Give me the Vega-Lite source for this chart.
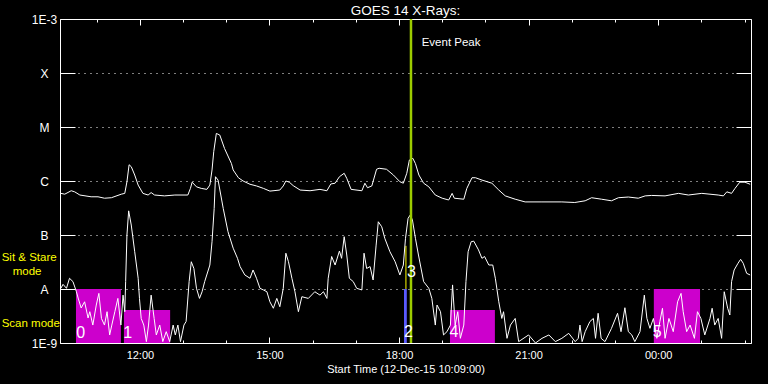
{
  "$schema": "https://vega.github.io/schema/vega-lite/v6.json",
  "width": 691,
  "height": 324,
  "autosize": {"type": "none"},
  "padding": {"left": 60, "top": 19, "right": 17, "bottom": 41},
  "background": "black",
  "title": {"text": "GOES 14 X-Rays:", "color": "white", "font": "Liberation Sans", "fontSize": 13.5, "fontWeight": "normal", "anchor": "middle", "offset": -4},
  "config": {
    "view": {"stroke": "white", "strokeWidth": 1},
    "axis": {"labelFont": "Liberation Sans", "titleFont": "Liberation Sans", "labelColor": "white", "titleColor": "white", "tickColor": "white", "domainColor": "white"}
  },
  "datasets": {
    "goes": [
      {"band":"long","hour":10.17,"flux":5.9e-7},{"band":"long","hour":10.26,"flux":5.7e-7},{"band":"long","hour":10.41,"flux":6.6e-7},{"band":"long","hour":10.49,"flux":6.3e-7},{"band":"long","hour":10.61,"flux":5.5e-7},{"band":"long","hour":10.87,"flux":5.1e-7},{"band":"long","hour":11.03,"flux":5.1e-7},{"band":"long","hour":11.18,"flux":4.8e-7},{"band":"long","hour":11.34,"flux":4.9e-7},{"band":"long","hour":11.57,"flux":5.7e-7},{"band":"long","hour":11.65,"flux":5.9e-7},{"band":"long","hour":11.70,"flux":9.7e-7},{"band":"long","hour":11.75,"flux":2.0e-6},{"band":"long","hour":11.80,"flux":1.84e-6},{"band":"long","hour":11.88,"flux":1.29e-6},{"band":"long","hour":11.96,"flux":8.4e-7},{"band":"long","hour":12.07,"flux":5.9e-7},{"band":"long","hour":12.19,"flux":5.5e-7},{"band":"long","hour":12.26,"flux":6.1e-7},{"band":"long","hour":12.34,"flux":5.5e-7},{"band":"long","hour":12.57,"flux":5.3e-7},{"band":"long","hour":12.81,"flux":5.5e-7},{"band":"long","hour":13.11,"flux":5.5e-7},{"band":"long","hour":13.17,"flux":7.3e-7},{"band":"long","hour":13.21,"flux":9.5e-7},{"band":"long","hour":13.31,"flux":7.8e-7},{"band":"long","hour":13.42,"flux":7.3e-7},{"band":"long","hour":13.55,"flux":7.0e-7},{"band":"long","hour":13.62,"flux":8.4e-7},{"band":"long","hour":13.67,"flux":1.6e-6},{"band":"long","hour":13.71,"flux":3.5e-6},{"band":"long","hour":13.77,"flux":7.6e-6},{"band":"long","hour":13.85,"flux":7.1e-6},{"band":"long","hour":13.96,"flux":4.0e-6},{"band":"long","hour":14.12,"flux":2.1e-6},{"band":"long","hour":14.16,"flux":1.6e-6},{"band":"long","hour":14.28,"flux":1.15e-6},{"band":"long","hour":14.39,"flux":1.0e-6},{"band":"long","hour":14.55,"flux":8.7e-7},{"band":"long","hour":14.70,"flux":8.1e-7},{"band":"long","hour":14.86,"flux":7.3e-7},{"band":"long","hour":15.01,"flux":6.5e-7},{"band":"long","hour":15.24,"flux":6.8e-7},{"band":"long","hour":15.32,"flux":8.1e-7},{"band":"long","hour":15.38,"flux":1.0e-6},{"band":"long","hour":15.46,"flux":9.5e-7},{"band":"long","hour":15.55,"flux":8.2e-7},{"band":"long","hour":15.71,"flux":6.8e-7},{"band":"long","hour":15.94,"flux":6.6e-7},{"band":"long","hour":16.17,"flux":7.0e-7},{"band":"long","hour":16.33,"flux":6.6e-7},{"band":"long","hour":16.42,"flux":8.8e-7},{"band":"long","hour":16.52,"flux":9.1e-7},{"band":"long","hour":16.62,"flux":1.2e-6},{"band":"long","hour":16.73,"flux":1.39e-6},{"band":"long","hour":16.79,"flux":1.12e-6},{"band":"long","hour":16.89,"flux":7.0e-7},{"band":"long","hour":17.14,"flux":6.6e-7},{"band":"long","hour":17.21,"flux":9.1e-7},{"band":"long","hour":17.27,"flux":7.5e-7},{"band":"long","hour":17.37,"flux":8.1e-7},{"band":"long","hour":17.48,"flux":1.65e-6},{"band":"long","hour":17.54,"flux":1.72e-6},{"band":"long","hour":17.71,"flux":1.65e-6},{"band":"long","hour":17.87,"flux":1.29e-6},{"band":"long","hour":18.02,"flux":9.7e-7},{"band":"long","hour":18.10,"flux":9.1e-7},{"band":"long","hour":18.18,"flux":1.39e-6},{"band":"long","hour":18.24,"flux":2.45e-6},{"band":"long","hour":18.32,"flux":2.63e-6},{"band":"long","hour":18.38,"flux":2.1e-6},{"band":"long","hour":18.46,"flux":1.29e-6},{"band":"long","hour":18.57,"flux":9.1e-7},{"band":"long","hour":18.69,"flux":7.8e-7},{"band":"long","hour":18.84,"flux":5.5e-7},{"band":"long","hour":19.00,"flux":4.8e-7},{"band":"long","hour":19.15,"flux":4.45e-7},{"band":"long","hour":19.23,"flux":5.9e-7},{"band":"long","hour":19.28,"flux":4.8e-7},{"band":"long","hour":19.50,"flux":4.6e-7},{"band":"long","hour":19.57,"flux":7.3e-7},{"band":"long","hour":19.69,"flux":1.15e-6},{"band":"long","hour":19.77,"flux":1.15e-6},{"band":"long","hour":19.92,"flux":1.04e-6},{"band":"long","hour":20.15,"flux":9.1e-7},{"band":"long","hour":20.31,"flux":6.8e-7},{"band":"long","hour":20.46,"flux":5.3e-7},{"band":"long","hour":20.69,"flux":4.6e-7},{"band":"long","hour":20.92,"flux":4.1e-7},{"band":"long","hour":21.31,"flux":4.1e-7},{"band":"long","hour":21.77,"flux":4.1e-7},{"band":"long","hour":22.07,"flux":4.0e-7},{"band":"long","hour":22.31,"flux":4.3e-7},{"band":"long","hour":22.46,"flux":4.9e-7},{"band":"long","hour":22.69,"flux":4.6e-7},{"band":"long","hour":22.92,"flux":4.3e-7},{"band":"long","hour":23.08,"flux":4.9e-7},{"band":"long","hour":23.31,"flux":5.05e-7},{"band":"long","hour":23.54,"flux":4.8e-7},{"band":"long","hour":23.70,"flux":5.3e-7},{"band":"long","hour":23.85,"flux":5.4e-7},{"band":"long","hour":24.16,"flux":5.3e-7},{"band":"long","hour":24.47,"flux":5.9e-7},{"band":"long","hour":24.70,"flux":5.5e-7},{"band":"long","hour":25.01,"flux":5.9e-7},{"band":"long","hour":25.39,"flux":5.5e-7},{"band":"long","hour":25.51,"flux":5.3e-7},{"band":"long","hour":25.59,"flux":6.3e-7},{"band":"long","hour":25.70,"flux":5.9e-7},{"band":"long","hour":25.78,"flux":7.3e-7},{"band":"long","hour":25.89,"flux":9.5e-7},{"band":"long","hour":26.01,"flux":9.5e-7},{"band":"long","hour":26.13,"flux":8.7e-7},
      {"band":"short","hour":10.17,"flux":1.03e-8},{"band":"short","hour":10.22,"flux":1.22e-8},{"band":"short","hour":10.30,"flux":1.03e-8},{"band":"short","hour":10.37,"flux":1.58e-8},{"band":"short","hour":10.45,"flux":1.37e-8},{"band":"short","hour":10.53,"flux":8.9e-9},{"band":"short","hour":10.57,"flux":6.8e-9},{"band":"short","hour":10.64,"flux":4.45e-9},{"band":"short","hour":10.72,"flux":5.8e-9},{"band":"short","hour":10.80,"flux":2.9e-9},{"band":"short","hour":10.84,"flux":3.8e-9},{"band":"short","hour":10.91,"flux":2.15e-9},{"band":"short","hour":10.99,"flux":5.05e-9},{"band":"short","hour":11.05,"flux":8.3e-9},{"band":"short","hour":11.11,"flux":2.85e-9},{"band":"short","hour":11.18,"flux":2.15e-9},{"band":"short","hour":11.24,"flux":3.8e-9},{"band":"short","hour":11.30,"flux":1.41e-9},{"band":"short","hour":11.35,"flux":2.15e-9},{"band":"short","hour":11.42,"flux":3.8e-9},{"band":"short","hour":11.49,"flux":6.7e-9},{"band":"short","hour":11.56,"flux":2.15e-9},{"band":"short","hour":11.61,"flux":7.7e-9},{"band":"short","hour":11.65,"flux":3.8e-9},{"band":"short","hour":11.67,"flux":1.37e-8},{"band":"short","hour":11.70,"flux":1.0e-7},{"band":"short","hour":11.74,"flux":2.8e-7},{"band":"short","hour":11.80,"flux":1.53e-7},{"band":"short","hour":11.88,"flux":4.9e-8},{"band":"short","hour":11.96,"flux":1.58e-8},{"band":"short","hour":11.99,"flux":6.7e-9},{"band":"short","hour":12.03,"flux":2.85e-9},{"band":"short","hour":12.09,"flux":2.15e-9},{"band":"short","hour":12.15,"flux":1.06e-9},{"band":"short","hour":12.20,"flux":2.15e-9},{"band":"short","hour":12.26,"flux":7.7e-9},{"band":"short","hour":12.33,"flux":2.85e-9},{"band":"short","hour":12.38,"flux":1.41e-9},{"band":"short","hour":12.46,"flux":2.15e-9},{"band":"short","hour":12.53,"flux":1.06e-9},{"band":"short","hour":12.61,"flux":1.62e-9},{"band":"short","hour":12.69,"flux":1.06e-9},{"band":"short","hour":12.77,"flux":2.15e-9},{"band":"short","hour":12.82,"flux":1.41e-9},{"band":"short","hour":12.88,"flux":2.15e-9},{"band":"short","hour":12.94,"flux":1.06e-9},{"band":"short","hour":13.02,"flux":2.15e-9},{"band":"short","hour":13.07,"flux":2.5e-9},{"band":"short","hour":13.14,"flux":1.37e-8},{"band":"short","hour":13.19,"flux":3.2e-8},{"band":"short","hour":13.25,"flux":2.4e-8},{"band":"short","hour":13.31,"flux":1.03e-8},{"band":"short","hour":13.38,"flux":6.7e-9},{"band":"short","hour":13.44,"flux":8.9e-9},{"band":"short","hour":13.50,"flux":1.37e-8},{"band":"short","hour":13.62,"flux":2.78e-8},{"band":"short","hour":13.67,"flux":7.5e-8},{"band":"short","hour":13.72,"flux":3.1e-7},{"band":"short","hour":13.75,"flux":1.2e-6},{"band":"short","hour":13.81,"flux":1.04e-6},{"band":"short","hour":13.93,"flux":3.1e-7},{"band":"short","hour":14.04,"flux":1.15e-7},{"band":"short","hour":14.16,"flux":5.7e-8},{"band":"short","hour":14.26,"flux":3.7e-8},{"band":"short","hour":14.32,"flux":2.6e-8},{"band":"short","hour":14.43,"flux":1.82e-8},{"band":"short","hour":14.55,"flux":1.58e-8},{"band":"short","hour":14.62,"flux":2.25e-8},{"band":"short","hour":14.70,"flux":1.58e-8},{"band":"short","hour":14.78,"flux":1.03e-8},{"band":"short","hour":14.86,"flux":9.6e-9},{"band":"short","hour":14.94,"flux":8.9e-9},{"band":"short","hour":15.01,"flux":5.8e-9},{"band":"short","hour":15.09,"flux":4.4e-9},{"band":"short","hour":15.17,"flux":6.7e-9},{"band":"short","hour":15.24,"flux":4.7e-9},{"band":"short","hour":15.32,"flux":1.03e-8},{"band":"short","hour":15.38,"flux":4.6e-8},{"band":"short","hour":15.44,"flux":3.2e-8},{"band":"short","hour":15.52,"flux":1.58e-8},{"band":"short","hour":15.59,"flux":8.9e-9},{"band":"short","hour":15.67,"flux":3.8e-9},{"band":"short","hour":15.75,"flux":7.2e-9},{"band":"short","hour":15.90,"flux":6.7e-9},{"band":"short","hour":16.05,"flux":8.9e-9},{"band":"short","hour":16.17,"flux":7.7e-9},{"band":"short","hour":16.25,"flux":8.9e-9},{"band":"short","hour":16.33,"flux":6.7e-9},{"band":"short","hour":16.36,"flux":1.58e-8},{"band":"short","hour":16.44,"flux":4.0e-8},{"band":"short","hour":16.52,"flux":2.78e-8},{"band":"short","hour":16.62,"flux":5.05e-8},{"band":"short","hour":16.67,"flux":3.7e-8},{"band":"short","hour":16.73,"flux":9.3e-8},{"band":"short","hour":16.79,"flux":4.26e-8},{"band":"short","hour":16.85,"flux":1.58e-8},{"band":"short","hour":16.94,"flux":1.37e-8},{"band":"short","hour":17.02,"flux":1.03e-8},{"band":"short","hour":17.14,"flux":9.6e-9},{"band":"short","hour":17.19,"flux":4.6e-8},{"band":"short","hour":17.25,"flux":2.4e-8},{"band":"short","hour":17.33,"flux":2.6e-8},{"band":"short","hour":17.40,"flux":1.47e-8},{"band":"short","hour":17.47,"flux":6.5e-8},{"band":"short","hour":17.52,"flux":1.76e-7},{"band":"short","hour":17.60,"flux":1.42e-7},{"band":"short","hour":17.67,"flux":8.7e-8},{"band":"short","hour":17.79,"flux":4.9e-8},{"band":"short","hour":17.91,"flux":3.2e-8},{"band":"short","hour":18.02,"flux":1.82e-8},{"band":"short","hour":18.10,"flux":2.78e-8},{"band":"short","hour":18.15,"flux":8.7e-8},{"band":"short","hour":18.21,"flux":2.04e-7},{"band":"short","hour":18.26,"flux":2.35e-7},{"band":"short","hour":18.31,"flux":1.9e-7},{"band":"short","hour":18.38,"flux":8.7e-8},{"band":"short","hour":18.45,"flux":4.26e-8},{"band":"short","hour":18.57,"flux":1.37e-8},{"band":"short","hour":18.69,"flux":1.03e-8},{"band":"short","hour":18.76,"flux":6.7e-9},{"band":"short","hour":18.84,"flux":2.15e-9},{"band":"short","hour":18.88,"flux":5.05e-9},{"band":"short","hour":18.96,"flux":3.8e-9},{"band":"short","hour":19.03,"flux":1.41e-9},{"band":"short","hour":19.11,"flux":1.62e-9},{"band":"short","hour":19.19,"flux":2.15e-9},{"band":"short","hour":19.24,"flux":1.19e-8},{"band":"short","hour":19.30,"flux":2.15e-9},{"band":"short","hour":19.36,"flux":3.8e-9},{"band":"short","hour":19.42,"flux":1.22e-9},{"band":"short","hour":19.50,"flux":2.15e-9},{"band":"short","hour":19.55,"flux":1.37e-8},{"band":"short","hour":19.60,"flux":4.9e-8},{"band":"short","hour":19.67,"flux":7.5e-8},{"band":"short","hour":19.73,"flux":7.7e-8},{"band":"short","hour":19.84,"flux":5.3e-8},{"band":"short","hour":19.92,"flux":3.7e-8},{"band":"short","hour":19.98,"flux":4.0e-8},{"band":"short","hour":20.08,"flux":2.78e-8},{"band":"short","hour":20.17,"flux":2.78e-8},{"band":"short","hour":20.23,"flux":1.58e-8},{"band":"short","hour":20.31,"flux":5.8e-9},{"band":"short","hour":20.38,"flux":2.85e-9},{"band":"short","hour":20.42,"flux":3.8e-9},{"band":"short","hour":20.50,"flux":1.22e-9},{"band":"short","hour":20.58,"flux":2.15e-9},{"band":"short","hour":20.69,"flux":2.85e-9},{"band":"short","hour":20.77,"flux":1.06e-9},{"band":"short","hour":21.00,"flux":1.41e-9},{"band":"short","hour":21.16,"flux":1.0e-9},{"band":"short","hour":21.31,"flux":1.22e-9},{"band":"short","hour":21.47,"flux":1.41e-9},{"band":"short","hour":21.62,"flux":1.06e-9},{"band":"short","hour":21.77,"flux":1.22e-9},{"band":"short","hour":21.93,"flux":1.51e-9},{"band":"short","hour":22.08,"flux":1.06e-9},{"band":"short","hour":22.15,"flux":1.22e-9},{"band":"short","hour":22.19,"flux":2.15e-9},{"band":"short","hour":22.24,"flux":1.06e-9},{"band":"short","hour":22.31,"flux":1.62e-9},{"band":"short","hour":22.42,"flux":2.5e-9},{"band":"short","hour":22.50,"flux":2.85e-9},{"band":"short","hour":22.55,"flux":1.22e-9},{"band":"short","hour":22.61,"flux":3.55e-9},{"band":"short","hour":22.68,"flux":1.22e-9},{"band":"short","hour":22.77,"flux":1.06e-9},{"band":"short","hour":22.92,"flux":1.87e-9},{"band":"short","hour":23.06,"flux":3.55e-9},{"band":"short","hour":23.14,"flux":1.62e-9},{"band":"short","hour":23.23,"flux":4.5e-9},{"band":"short","hour":23.31,"flux":1.62e-9},{"band":"short","hour":23.39,"flux":1.41e-9},{"band":"short","hour":23.46,"flux":1.06e-9},{"band":"short","hour":23.58,"flux":1.62e-9},{"band":"short","hour":23.68,"flux":7.7e-9},{"band":"short","hour":23.74,"flux":2.85e-9},{"band":"short","hour":23.81,"flux":1.87e-9},{"band":"short","hour":23.89,"flux":2.85e-9},{"band":"short","hour":23.97,"flux":1.22e-9},{"band":"short","hour":24.04,"flux":2.5e-9},{"band":"short","hour":24.10,"flux":4.4e-9},{"band":"short","hour":24.16,"flux":1.22e-9},{"band":"short","hour":24.25,"flux":2.85e-9},{"band":"short","hour":24.35,"flux":1.62e-9},{"band":"short","hour":24.45,"flux":5.8e-9},{"band":"short","hour":24.53,"flux":8.3e-9},{"band":"short","hour":24.58,"flux":3.8e-9},{"band":"short","hour":24.66,"flux":1.62e-9},{"band":"short","hour":24.74,"flux":2.15e-9},{"band":"short","hour":24.84,"flux":1.22e-9},{"band":"short","hour":24.91,"flux":3.8e-9},{"band":"short","hour":24.99,"flux":2.85e-9},{"band":"short","hour":25.08,"flux":1.41e-9},{"band":"short","hour":25.20,"flux":2.85e-9},{"band":"short","hour":25.25,"flux":4.4e-9},{"band":"short","hour":25.31,"flux":2.15e-9},{"band":"short","hour":25.39,"flux":2.85e-9},{"band":"short","hour":25.47,"flux":1.22e-9},{"band":"short","hour":25.53,"flux":8.9e-9},{"band":"short","hour":25.61,"flux":4.4e-9},{"band":"short","hour":25.66,"flux":3.3e-9},{"band":"short","hour":25.70,"flux":1.37e-8},{"band":"short","hour":25.76,"flux":2.25e-8},{"band":"short","hour":25.85,"flux":3.0e-8},{"band":"short","hour":25.91,"flux":3.55e-8},{"band":"short","hour":25.97,"flux":3.0e-8},{"band":"short","hour":26.05,"flux":1.95e-8},{"band":"short","hour":26.13,"flux":1.82e-8}
    ],
    "modes": [
      {"mode":"scan","hour":10.52,"hour2":11.56,"flux":1e-9,"flux2":1e-8},
      {"mode":"scan","hour":11.63,"hour2":12.70,"flux":1e-9,"flux2":4.1e-9},
      {"mode":"scan","hour":19.18,"hour2":20.22,"flux":1e-9,"flux2":4.1e-9},
      {"mode":"scan","hour":23.90,"hour2":24.97,"flux":1e-9,"flux2":1e-8},
      {"mode":"sit","hour":18.115,"hour2":18.18,"flux":1e-9,"flux2":1e-8}
    ],
    "stare": [{"hour":18.16,"flux":1e-8,"flux2":6.3e-8}],
    "peak": [{"hour":18.277}],
    "numbers": [
      {"label":"0","hour":10.63,"flux":1.55e-9},
      {"label":"1","hour":11.72,"flux":1.55e-9},
      {"label":"2","hour":18.22,"flux":1.6e-9},
      {"label":"3","hour":18.29,"flux":2.1e-8},
      {"label":"4","hour":19.27,"flux":1.6e-9},
      {"label":"5","hour":23.98,"flux":1.6e-9}
    ],
    "peaknote": [{"label":"Event Peak","hour":18.525,"flux":3.6e-4}],
    "modenotes": [
      {"label":"Sit & Stare","hour":8.80,"flux":3.8e-8},
      {"label":"mode","hour":9.055,"flux":2.08e-8},
      {"label":"Scan mode","hour":8.80,"flux":2.25e-9}
    ]
  },
  "resolve": {"axis": {"x": "independent", "y": "independent"}},
  "layer": [
    {
      "data": {"name": "modes"},
      "mark": {"type": "rect", "clip": true},
      "encoding": {
        "x": {"field": "hour", "type": "quantitative", "scale": {"domain": [10.15, 26.15], "nice": false, "zero": false},
              "axis": {"orient": "top", "values": [11,12,13,14,15,16,17,18,19,20,21,22,23,24,25,26], "labels": false, "grid": false, "domain": false, "title": null,
                       "tickSize": {"condition": {"test": "datum.value % 3 === 0", "value": -6}, "value": -3}}},
        "x2": {"field": "hour2"},
        "y": {"field": "flux", "type": "quantitative", "scale": {"type": "log", "domain": [1e-9, 1e-3], "nice": false},
              "axis": {"orient": "right", "values": [1e-8, 1e-7, 1e-6, 1e-5, 1e-4], "labels": false, "grid": false, "domain": false, "title": null, "tickSize": -15}},
        "y2": {"field": "flux2"},
        "color": {"field": "mode", "type": "nominal", "scale": {"domain": ["scan", "sit"], "range": ["#cc00cc", "#5a5aff"]}, "legend": null}
      }
    },
    {
      "data": {"name": "stare"},
      "mark": {"type": "rule", "color": "#ffff00", "strokeWidth": 1},
      "encoding": {
        "x": {"field": "hour", "type": "quantitative", "axis": null},
        "y": {"field": "flux", "type": "quantitative", "axis": null},
        "y2": {"field": "flux2"}
      }
    },
    {
      "data": {"name": "goes"},
      "mark": {"type": "line", "color": "white", "strokeWidth": 1, "clip": true},
      "encoding": {
        "x": {"field": "hour", "type": "quantitative",
              "axis": {"orient": "bottom", "values": [11,12,13,14,15,16,17,18,19,20,21,22,23,24,25,26], "grid": false, "domain": false,
                       "tickSize": {"condition": {"test": "datum.value % 3 === 0", "value": -6}, "value": -3},
                       "labelExpr": "datum.value % 3 === 0 ? ((datum.value % 24 < 10 ? '0' : '') + (datum.value % 24) + ':00') : ''",
                       "labelFontSize": 11, "labelPadding": 12, "labelBaseline": "top",
                       "title": "Start Time (12-Dec-15 10:09:00)", "titleFontSize": 11, "titleFontWeight": "normal", "titlePadding": 3}},
        "y": {"field": "flux", "type": "quantitative",
              "axis": {"orient": "left", "values": [1e-9, 1e-8, 1e-7, 1e-6, 1e-5, 1e-4, 1e-3], "grid": true, "gridColor": "white", "gridDash": [1, 5], "gridWidth": 1, "gridOpacity": 1,
                       "domain": false, "tickSize": -15, "labelPadding": 31, "labelAlign": "center", "labelBaseline": "middle", "labelFontSize": 12, "title": null,
                       "labelExpr": "round(log(datum.value)/LN10) == -9 ? '1E-9' : round(log(datum.value)/LN10) == -8 ? 'A' : round(log(datum.value)/LN10) == -7 ? 'B' : round(log(datum.value)/LN10) == -6 ? 'C' : round(log(datum.value)/LN10) == -5 ? 'M' : round(log(datum.value)/LN10) == -4 ? 'X' : '1E-3'"}},
        "detail": {"field": "band"}
      }
    },
    {
      "data": {"name": "peak"},
      "mark": {"type": "rule", "color": "#9ccc00", "strokeWidth": 2.5},
      "encoding": {
        "x": {"field": "hour", "type": "quantitative", "axis": null}
      }
    },
    {
      "data": {"name": "numbers"},
      "mark": {"type": "text", "color": "white", "font": "Liberation Sans", "fontSize": 16, "align": "center", "baseline": "middle"},
      "encoding": {
        "x": {"field": "hour", "type": "quantitative", "axis": null},
        "y": {"field": "flux", "type": "quantitative", "axis": null},
        "text": {"field": "label"}
      }
    },
    {
      "data": {"name": "peaknote"},
      "mark": {"type": "text", "color": "white", "font": "Liberation Sans", "fontSize": 11.5, "align": "left", "baseline": "middle"},
      "encoding": {
        "x": {"field": "hour", "type": "quantitative", "axis": null},
        "y": {"field": "flux", "type": "quantitative", "axis": null},
        "text": {"field": "label"}
      }
    },
    {
      "data": {"name": "modenotes"},
      "mark": {"type": "text", "color": "#ffff00", "font": "Liberation Sans", "fontSize": 11.5, "align": "left", "baseline": "middle"},
      "encoding": {
        "x": {"field": "hour", "type": "quantitative", "axis": null},
        "y": {"field": "flux", "type": "quantitative", "axis": null},
        "text": {"field": "label"}
      }
    }
  ]
}
